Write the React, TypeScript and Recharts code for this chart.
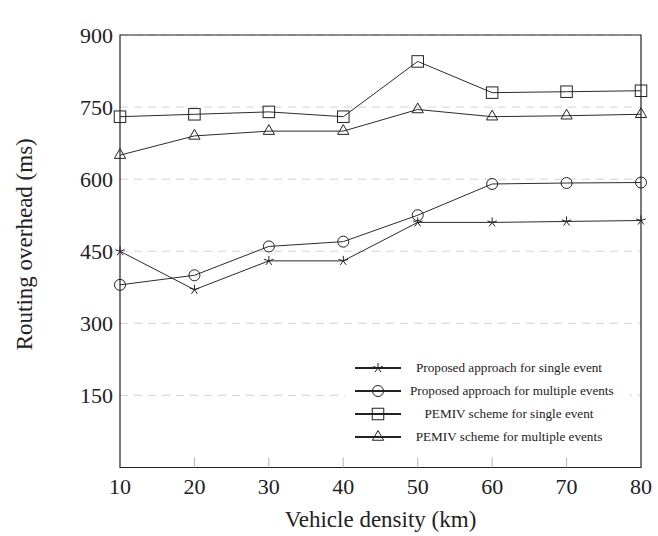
import React from "react";
import { LineChart, Line, XAxis, YAxis, CartesianGrid, Legend, ReferenceArea } from "recharts";

// values
const density = [10, 20, 30, 40, 50, 60, 70, 80];
const proposedSingle = [450, 370, 430, 430, 510, 510, 512, 514];
const proposedMultiple = [380, 400, 460, 470, 525, 590, 592, 593];
const pemivSingle = [730, 735, 740, 730, 845, 780, 782, 784];
const pemivMultiple = [650, 690, 700, 700, 745, 730, 732, 735];

const xTicks = [10, 20, 30, 40, 50, 60, 70, 80];
const yTicks = [150, 300, 450, 600, 750, 900];

const seriesList = [
  { key: "proposedSingle", name: "Proposed approach for single event", mark: "star" },
  { key: "proposedMultiple", name: "Proposed approach for multiple events", mark: "circle" },
  { key: "pemivSingle", name: "PEMIV scheme for single event", mark: "square" },
  { key: "pemivMultiple", name: "PEMIV scheme for multiple events", mark: "triangle" },
];

const data = density.map((d, i) => ({
  density: d,
  proposedSingle: proposedSingle[i],
  proposedMultiple: proposedMultiple[i],
  pemivSingle: pemivSingle[i],
  pemivMultiple: pemivMultiple[i],
}));

const FONT = "Liberation Serif";
const INK = "#222";
const LINE = "#2b2b2b";

function Mark({ kind, cx, cy }: { kind: string; cx: number; cy: number }) {
  const common = { fill: "none", stroke: INK, strokeWidth: 1 };
  if (kind === "circle") return <circle cx={cx} cy={cy} r={5.5} {...common} />;
  if (kind === "square") return <rect x={cx - 5.75} y={cy - 5.75} width={11.5} height={11.5} {...common} />;
  if (kind === "triangle") {
    const r = 6.5;
    const pts = [90, 210, 330]
      .map((a) => `${cx + r * Math.cos((a * Math.PI) / 180)},${cy - r * Math.sin((a * Math.PI) / 180)}`)
      .join(" ");
    return <polygon points={pts} {...common} />;
  }
  // five-armed star, pgfplots style
  const r = 5;
  return (
    <g>
      {[90, 162, 234, 306, 18].map((a) => (
        <line
          key={a}
          x1={cx}
          y1={cy}
          x2={cx + r * Math.cos((a * Math.PI) / 180)}
          y2={cy - r * Math.sin((a * Math.PI) / 180)}
          stroke={INK}
          strokeWidth={1}
        />
      ))}
    </g>
  );
}

function BottomTick(props: any) {
  const { x, y, payload } = props;
  const inner = payload.value !== 10 && payload.value !== 80;
  return (
    <g>
      {inner && <line x1={x} y1={y} x2={x} y2={y - 10} stroke="#b5b5b5" strokeWidth={1} />}
      <text x={x} y={y + 26} textAnchor="middle" fontFamily={FONT} fontSize={22} fill={INK}>
        {payload.value}
      </text>
    </g>
  );
}

function TopTick(props: any) {
  const { x, y, payload } = props;
  if (payload.value === 10 || payload.value === 80) return <g />;
  return <line x1={x} y1={y} x2={x} y2={y + 10} stroke="#b5b5b5" strokeWidth={1} />;
}

function LeftTick(props: any) {
  const { x, y, payload } = props;
  return (
    <text x={x - 7} y={y + 7.5} textAnchor="end" fontFamily={FONT} fontSize={22} fill={INK}>
      {payload.value}
    </text>
  );
}

function LegendBox() {
  return (
    <div style={{ background: "#fff", paddingTop: 4, fontFamily: FONT, fontSize: 13.2, color: INK }}>
      {seriesList.map((s) => (
        <div key={s.key} style={{ position: "relative", height: 23 }}>
          <svg width={46} height={14} style={{ position: "absolute", left: 10, top: 4.5 }}>
            <line x1={0} y1={7} x2={46} y2={7} stroke={INK} strokeWidth={2} />
            <Mark kind={s.mark} cx={23} cy={7} />
          </svg>
          <div
            style={{
              position: "absolute",
              left: 65,
              width: 198,
              top: 0,
              lineHeight: "23px",
              textAlign: "center",
              whiteSpace: "nowrap",
            }}
          >
            {s.name}
          </div>
        </div>
      ))}
    </div>
  );
}

export default function App() {
  return (
    <div style={{ position: "absolute", left: 0, top: 0, background: "#fff" }}>
      <LineChart width={658} height={536} data={data} margin={{ top: 35, right: 17, bottom: 0, left: 0 }}>
        <CartesianGrid vertical={false} stroke="#d2d2d2" strokeDasharray="8 6" />
        <XAxis
          dataKey="density"
          type="number"
          domain={[10, 80]}
          ticks={xTicks}
          height={68.5}
          axisLine={false}
          tickLine={false}
          tickSize={0}
          tickMargin={0}
          tick={<BottomTick />}
          label={{
            value: "Vehicle density (km)",
            position: "insideBottom",
            offset: 9,
            fontSize: 23,
            fontFamily: FONT,
            fill: INK,
          }}
        />
        <XAxis
          xAxisId="top"
          orientation="top"
          dataKey="density"
          type="number"
          domain={[10, 80]}
          ticks={xTicks}
          height={0}
          axisLine={false}
          tickLine={false}
          tickSize={0}
          tickMargin={0}
          tick={<TopTick />}
        />
        <YAxis
          type="number"
          domain={[0, 900]}
          ticks={yTicks}
          width={120}
          axisLine={false}
          tickLine={false}
          tickSize={0}
          tickMargin={0}
          tick={<LeftTick />}
          label={{
            position: "insideLeft",
            content: (p: any) => {
              const vb = p.viewBox || { x: 0, y: 35, width: 120, height: 432.5 };
              const cy = vb.y + vb.height / 2 - 7;
              return (
                <text
                  x={32}
                  y={cy}
                  transform={`rotate(-90, 32, ${cy})`}
                  textAnchor="middle"
                  fontFamily={FONT}
                  fontSize={23}
                  fill={INK}
                >
                  Routing overhead (ms)
                </text>
              );
            },
          }}
        />
        <ReferenceArea x1={10} x2={80} y1={0} y2={900} fill="none" stroke={INK} strokeWidth={1.2} ifOverflow="visible" />
        {seriesList.map((s) => (
          <Line
            key={s.key}
            dataKey={s.key}
            name={s.name}
            stroke={LINE}
            strokeWidth={1}
            isAnimationActive={false}
            dot={(p: any) => <Mark key={`${s.key}-${p.index}`} kind={s.mark} cx={p.cx} cy={p.cy} />}
            activeDot={false}
          />
        ))}
        <Legend
          layout="vertical"
          align="center"
          verticalAlign="middle"
          content={<LegendBox />}
          wrapperStyle={{ left: 345, top: 352, width: 285, height: 99 }}
        />
      </LineChart>
    </div>
  );
}
